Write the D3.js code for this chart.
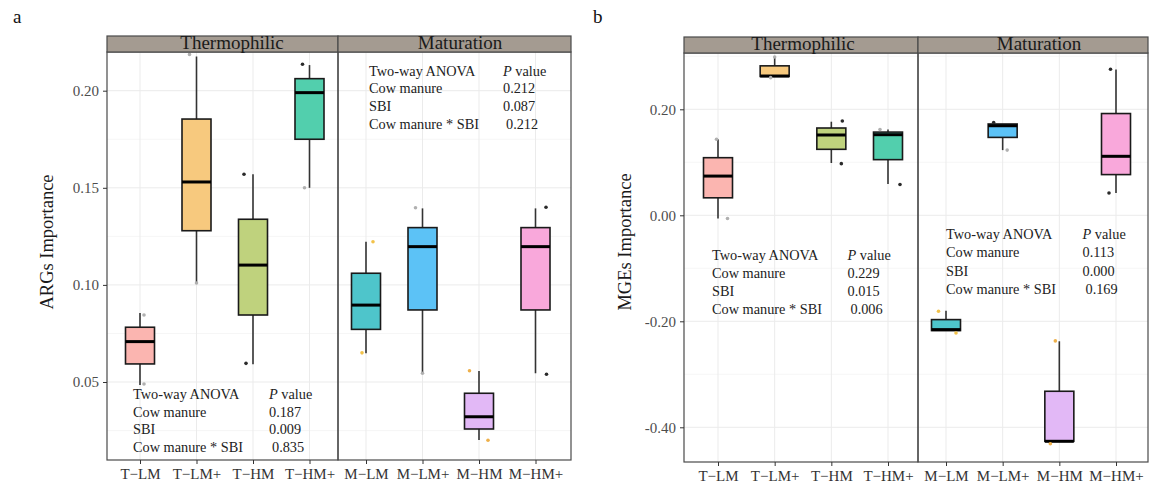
<!DOCTYPE html>
<html>
<head>
<meta charset="utf-8">
<script src="https://cdn.jsdelivr.net/npm/d3@7"></script>
<style>
  body { margin: 0; background: #fff; }
  svg { font-family: "Liberation Serif", "Times New Roman", serif; }
</style>
</head>
<body>
<div id="chart"></div>
<script>
// ---- Data ----
const stages = ["Thermophilic", "Maturation"];
const categoriesT = ["T\u2212LM", "T\u2212LM+", "T\u2212HM", "T\u2212HM+"];
const categoriesM = ["M\u2212LM", "M\u2212LM+", "M\u2212HM", "M\u2212HM+"];

// box stats per group: [lower whisker, q1, median, q3, upper whisker]
const argsStats = [
  [0.0485, 0.0593, 0.0708, 0.0782, 0.0855],
  [0.1011, 0.1279, 0.1530, 0.1854, 0.2176],
  [0.0591, 0.0845, 0.1102, 0.1338, 0.1570],
  [0.1500, 0.1750, 0.1990, 0.2062, 0.2132],
  [0.0648, 0.0771, 0.0896, 0.1060, 0.1222],
  [0.0545, 0.0871, 0.1197, 0.1295, 0.1394],
  [0.0201, 0.0258, 0.0321, 0.0442, 0.0557],
  [0.0545, 0.0871, 0.1197, 0.1295, 0.1394]
];
const argsPoints = [
  [0.0845, 0.0490], [0.2187, 0.1010], [0.1570, 0.0596], [0.2136, 0.1500],
  [0.1222, 0.0650], [0.1397, 0.0545], [0.0558, 0.0200], [0.1400, 0.0540]
];

const mgesStats = [
  [-0.0060, 0.0330, 0.0740, 0.1087, 0.1434],
  [0.2620, 0.2620, 0.2628, 0.2820, 0.2987],
  [0.0987, 0.1245, 0.1515, 0.1647, 0.1766],
  [0.0590, 0.1050, 0.1521, 0.1570, 0.1620],
  [-0.2175, -0.2175, -0.2157, -0.1968, -0.1800],
  [0.1230, 0.1470, 0.1690, 0.1723, 0.1723],
  [-0.4264, -0.4264, -0.4264, -0.3320, -0.2377],
  [0.0419, 0.0768, 0.1113, 0.1920, 0.2753]
];
const mgesPoints = [
  [0.1434, -0.0060], [0.2597, 0.2987], [0.1780, 0.0975], [0.1620, 0.0580],
  [-0.1810, -0.2220], [0.1750, 0.1230], [-0.2370, -0.4310], [0.2755, 0.0420]
];

const argsTicks = [0.05, 0.10, 0.15, 0.20];
const argsTickLabels = ["0.05", "0.10", "0.15", "0.20"];
const mgesTicks = [-0.40, -0.20, 0.00, 0.20];
const mgesTickLabels = ["-0.40", "-0.20", "0.00", "0.20"];

const anovaTerms = ["Cow manure", "SBI", "Cow manure * SBI"];
const argsPThermo = ["0.187", "0.009", "0.835"];
const argsPMatur = ["0.212", "0.087", "0.212"];
const mgesPThermo = ["0.229", "0.015", "0.006"];
const mgesPMatur = ["0.113", "0.000", "0.169"];

// ---- Styles ----
const boxColors = ["#fbb5b0", "#f7c97e", "#bfd27d", "#52cfad", "#4ec5cb", "#5cc2f6", "#e2b8f6", "#f9a8db"];
const grey = "#b0b0b0", black = "#2a2a2a", yellow = "#f2c24a", orange = "#eeb04a";
const argsPointColors = [[grey, grey], [grey, grey], [black, black], [black, grey],
                         [yellow, yellow], [grey, grey], [orange, orange], [black, black]];
const mgesPointColors = [[grey, grey], [grey, grey], [black, black], [grey, black],
                         [yellow, yellow], [black, grey], [orange, orange], [black, black]];
// horizontal jitter of the dots, px
const argsJitter = [[4, 4], [-7, 0], [-9, -7], [-7, -5], [7, -4], [-7, 0], [-9.5, 9], [10.5, 11]];
const mgesJitter = [[-1.5, 9.5], [-4, 0], [11, 10], [-8, 12], [-7.5, 10], [-9, 4.5], [-4, -9], [-5.5, -7]];

const svgWidth = 1150, svgHeight = 486;
const svg = d3.select("#chart").append("svg")
  .attr("width", svgWidth)
  .attr("height", svgHeight);

// Draw one figure panel (two facets)
const drawPanel = (cfg) => {
  const y = d3.scaleLinear().domain(cfg.yDomain).range(cfg.yRange);
  const g = svg.append("g");

  // facet x scales
  const xT = d3.scalePoint().domain(categoriesT).range(cfg.xT);
  const xM = d3.scalePoint().domain(categoriesM).range(cfg.xM);
  const facets = [
    { name: stages[0], x: xT, cats: categoriesT, x0: cfg.left, x1: cfg.mid, labelX: cfg.stripX[0] },
    { name: stages[1], x: xM, cats: categoriesM, x0: cfg.mid, x1: cfg.right, labelX: cfg.stripX[1] }
  ];

  // grid lines
  const step = cfg.yTicks[1] - cfg.yTicks[0];
  const minor = cfg.yTicks.map(t => t + step / 2).concat([cfg.yTicks[0] - step / 2]);
  facets.forEach(f => {
    g.selectAll(null).data(minor.filter(v => y(v) > cfg.top && y(v) < cfg.bottom)).enter()
      .append("line")
      .attr("x1", f.x0).attr("x2", f.x1)
      .attr("y1", d => y(d)).attr("y2", d => y(d))
      .attr("stroke", "#f4f4f4").attr("stroke-width", 0.8);
    g.selectAll(null).data(cfg.yTicks).enter()
      .append("line")
      .attr("x1", f.x0).attr("x2", f.x1)
      .attr("y1", d => y(d)).attr("y2", d => y(d))
      .attr("stroke", "#ebebeb").attr("stroke-width", 1);
    g.selectAll(null).data(f.cats).enter()
      .append("line")
      .attr("x1", d => f.x(d)).attr("x2", d => f.x(d))
      .attr("y1", cfg.top).attr("y2", cfg.bottom)
      .attr("stroke", "#ebebeb").attr("stroke-width", 1);
  });

  // boxes
  const boxW = 29;
  facets.forEach((f, fi) => {
    f.cats.forEach((c, ci) => {
      const i = fi * 4 + ci;
      const s = cfg.stats[i];
      const cx = f.x(c);
      g.append("line")
        .attr("x1", cx).attr("x2", cx)
        .attr("y1", y(s[0])).attr("y2", y(s[4]))
        .attr("stroke", "#333").attr("stroke-width", 1.6);
      g.append("rect")
        .attr("x", cx - boxW / 2).attr("width", boxW)
        .attr("y", y(s[3])).attr("height", Math.max(0.5, y(s[1]) - y(s[3])))
        .attr("fill", boxColors[i])
        .attr("stroke", "#1a1a1a").attr("stroke-width", 1.6);
      g.append("line")
        .attr("x1", cx - boxW / 2).attr("x2", cx + boxW / 2)
        .attr("y1", y(s[2])).attr("y2", y(s[2]))
        .attr("stroke", "#000").attr("stroke-width", 3);
      cfg.points[i].forEach((v, pi) => {
        g.append("circle")
          .attr("cx", cx + cfg.jitter[i][pi])
          .attr("cy", y(v))
          .attr("r", 1.8)
          .attr("fill", cfg.pointColors[i][pi]);
      });
    });

    // panel border
    g.append("rect")
      .attr("x", f.x0).attr("y", cfg.top)
      .attr("width", f.x1 - f.x0).attr("height", cfg.bottom - cfg.top)
      .attr("fill", "none").attr("stroke", "#4a4a4a").attr("stroke-width", 1.2);

    // strip
    g.append("rect")
      .attr("x", f.x0).attr("y", cfg.stripTop)
      .attr("width", f.x1 - f.x0).attr("height", cfg.top - cfg.stripTop)
      .attr("fill", "#a49b91").attr("stroke", "#4a4a4a").attr("stroke-width", 1.2);
    g.append("text")
      .attr("x", f.labelX).attr("y", cfg.top - 3)
      .attr("text-anchor", "middle")
      .attr("font-size", 19)
      .attr("fill", "#1a1a1a")
      .text(f.name);

    // x axis
    const xAxis = d3.axisBottom(f.x).tickSize(4).tickPadding(4);
    const ax = g.append("g")
      .attr("transform", `translate(0, ${cfg.bottom})`)
      .call(xAxis);
    ax.select(".domain").remove();
    ax.selectAll(".tick line").attr("stroke", "#333");
    ax.selectAll(".tick text")
      .attr("font-family", "Liberation Serif, serif")
      .attr("font-size", 15).attr("fill", "#333").attr("dy", "0.75em");
  });

  // y axis
  const yAxis = d3.axisLeft(y).tickValues(cfg.yTicks)
    .tickFormat((d, i) => cfg.yTickLabels[i]).tickSize(4).tickPadding(4);
  const ay = g.append("g")
    .attr("transform", `translate(${cfg.left}, 0)`)
    .call(yAxis);
  ay.select(".domain").remove();
  ay.selectAll(".tick line").attr("stroke", "#333");
  ay.selectAll(".tick text")
    .attr("font-family", "Liberation Serif, serif")
    .attr("font-size", 15).attr("fill", "#4d4d4d");

  // y title
  g.append("text")
    .attr("transform", `translate(${cfg.titleX}, 242) rotate(-90)`)
    .attr("text-anchor", "middle")
    .attr("font-size", 18.5)
    .attr("fill", "#1a1a1a")
    .text(cfg.yTitle);

  // panel letter
  g.append("text")
    .attr("x", cfg.letterX).attr("y", 23)
    .attr("font-size", 19).attr("fill", "#111")
    .text(cfg.letter);

  // ANOVA tables
  cfg.anova.forEach(a => {
    const t = g.append("g").attr("font-size", 14.3).attr("fill", "#222");
    t.append("text").attr("x", a.x).attr("y", a.y).text("Two-way ANOVA");
    const pv = t.append("text").attr("x", a.px).attr("y", a.y);
    pv.append("tspan").attr("font-style", "italic").text("P");
    pv.append("tspan").text(" value");
    anovaTerms.forEach((term, k) => {
      t.append("text").attr("x", a.x).attr("y", a.y + (k + 1) * a.dy).text(term);
      t.append("text").attr("x", a.px + (k === 2 ? 3 : 0)).attr("y", a.y + (k + 1) * a.dy).text(a.values[k]);
    });
  });
};

drawPanel({
  letter: "a", letterX: 13,
  yTitle: "ARGs Importance", titleX: 53,
  left: 107, mid: 338, right: 571,
  stripTop: 36, top: 52, bottom: 460,
  xT: [140, 309.5], xM: [366, 535.5],
  stripX: [232, 460],
  yDomain: [0.05, 0.20], yRange: [382, 90.7],
  yTicks: argsTicks, yTickLabels: argsTickLabels,
  stats: argsStats, points: argsPoints,
  pointColors: argsPointColors, jitter: argsJitter,
  anova: [
    { x: 133, y: 399, dy: 17.7, px: 269, values: argsPThermo },
    { x: 369, y: 75.5, dy: 17.8, px: 503, values: argsPMatur }
  ]
});

drawPanel({
  letter: "b", letterX: 593,
  yTitle: "MGEs Importance", titleX: 631,
  left: 684, mid: 918, right: 1148,
  stripTop: 37, top: 53, bottom: 462,
  xT: [718, 888], xM: [946, 1116],
  stripX: [803, 1039],
  yDomain: [-0.40, 0.20], yRange: [427.3, 109.3],
  yTicks: mgesTicks, yTickLabels: mgesTickLabels,
  stats: mgesStats, points: mgesPoints,
  pointColors: mgesPointColors, jitter: mgesJitter,
  anova: [
    { x: 712, y: 260, dy: 18, px: 847.5, values: mgesPThermo },
    { x: 946, y: 239, dy: 18.3, px: 1082.5, values: mgesPMatur }
  ]
});
</script>
</body>
</html>
